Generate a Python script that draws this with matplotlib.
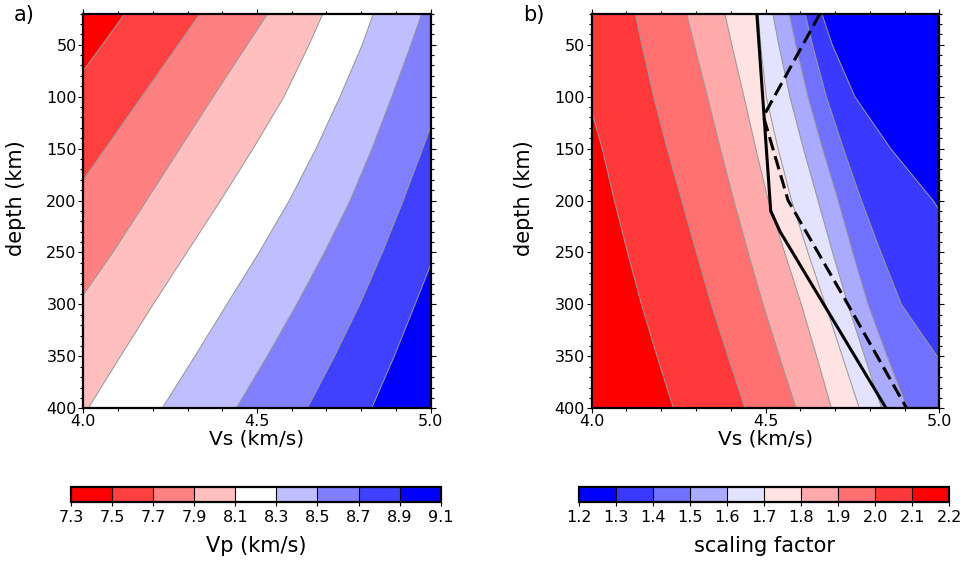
import numpy as np
import matplotlib
matplotlib.use("Agg")
import matplotlib.pyplot as plt
from matplotlib.colors import ListedColormap, BoundaryNorm
from matplotlib.cm import ScalarMappable
from matplotlib.ticker import MultipleLocator

plt.rcParams["font.family"] = ["DejaVu Sans"]

# depth rows (km) at which the contour positions were read
depth = [20, 50, 100, 150, 200, 250, 300, 350, 400]

# a) Vs (km/s) where each Vp contour sits at those depths (values past 4.0/5.0 run off the frame)
vp_levels = [7.3, 7.5, 7.7, 7.9, 8.1, 8.3, 8.5, 8.7, 8.9, 9.1]
vp_75 = [4.120, 4.055, 3.945, 3.836, 3.727, 3.618, 3.509, 3.400, 3.290]
vp_77 = [4.336, 4.273, 4.168, 4.063, 3.958, 3.853, 3.748, 3.643, 3.538]
vp_79 = [4.531, 4.472, 4.374, 4.278, 4.182, 4.085, 3.981, 3.886, 3.790]
vp_81 = [4.690, 4.650, 4.578, 4.489, 4.395, 4.298, 4.201, 4.107, 4.014]
vp_83 = [4.835, 4.803, 4.739, 4.670, 4.593, 4.506, 4.413, 4.321, 4.227]
vp_85 = [4.974, 4.943, 4.888, 4.831, 4.768, 4.694, 4.614, 4.529, 4.440]
vp_87 = [5.080, 5.060, 5.032, 4.977, 4.921, 4.861, 4.796, 4.723, 4.645]
vp_89 = [5.260, 5.230, 5.190, 5.130, 5.073, 5.014, 4.955, 4.895, 4.830]

# b) Vs (km/s) of each scaling-factor contour
sf_levels = [1.2, 1.3, 1.4, 1.5, 1.6, 1.7, 1.8, 1.9, 2.0, 2.1, 2.2]
sf_21 = [3.930, 3.955, 3.988, 4.030, 4.065, 4.103, 4.143, 4.188, 4.235]
sf_20 = [4.125, 4.144, 4.178, 4.217, 4.259, 4.301, 4.344, 4.392, 4.441]
sf_19 = [4.273, 4.295, 4.333, 4.370, 4.409, 4.450, 4.493, 4.540, 4.588]
sf_18 = [4.383, 4.403, 4.438, 4.472, 4.508, 4.555, 4.603, 4.647, 4.690]
sf_17 = [4.479, 4.486, 4.502, 4.536, 4.575, 4.622, 4.672, 4.721, 4.770]
sf_16 = [4.521, 4.538, 4.570, 4.609, 4.651, 4.693, 4.737, 4.785, 4.834]
sf_15 = [4.568, 4.587, 4.622, 4.664, 4.709, 4.751, 4.795, 4.850, 4.908]
sf_14 = [4.614, 4.635, 4.675, 4.724, 4.776, 4.832, 4.891, 4.994, 5.100]
sf_13 = [4.662, 4.692, 4.757, 4.860, 4.982, 5.080, 5.180, 5.280, 5.380]

# black profiles in b)
solid_vs = [4.475, 4.515, 4.542, 4.847]
solid_depth = [20, 210, 230, 400]
dashed_vs = [4.657, 4.494, 4.565, 4.737, 4.906]
dashed_depth = [20, 119, 200, 300, 400]


def polar(n):
    # GMT "polar": blue -> white -> red
    out = []
    for f in np.linspace(0, 1, n):
        if f <= 0.5:
            out.append((2 * f, 2 * f, 1.0))
        else:
            out.append((1.0, 2 * (1 - f), 2 * (1 - f)))
    return out


def draw_field(ax, lines, colors):
    # lines ordered left to right, one colour per band left to right
    edges = [[3.0] * len(depth)] + lines + [[6.0] * len(depth)]
    for left, right, c in zip(edges[:-1], edges[1:], colors):
        ax.fill_betweenx(depth, left, right, color=c, lw=0, edgecolor="none")
    for ln in lines:
        ax.plot(ln, depth, color="0.58", lw=0.7)


def frame(ax):
    ax.set_xlim(4.0, 5.0)
    ax.set_ylim(400, 20)
    ax.set_xticks([4.0, 4.5, 5.0], ["4.0", "4.5", "5.0"])
    ax.set_yticks(range(50, 401, 50))
    ax.xaxis.set_minor_locator(MultipleLocator(0.1))
    ax.yaxis.set_minor_locator(MultipleLocator(10))
    ax.tick_params(which="both", direction="out", top=True, right=True,
                   width=0.8, labelsize=11.5, pad=1.0)
    ax.tick_params(axis="x", which="both", pad=0.3)
    ax.tick_params(which="major", length=3.8)
    ax.tick_params(which="minor", length=2.0)
    for s in ax.spines.values():
        s.set_linewidth(1.6)
    ax.set_xlabel("Vs (km/s)", fontsize=14.5, labelpad=0.5)
    ax.set_ylabel("depth (km)", fontsize=15)
    ax.yaxis.set_label_coords(-0.165, 0.533)


def colorbar(fig, rect, levels, colors, label):
    cax = fig.add_axes(rect)
    sm = ScalarMappable(norm=BoundaryNorm(levels, len(colors)), cmap=ListedColormap(colors))
    cb = fig.colorbar(sm, cax=cax, orientation="horizontal", ticks=levels, drawedges=True)
    cb.set_ticklabels([f"{v:.1f}" for v in levels])
    cb.outline.set_linewidth(1.6)
    cb.dividers.set_color("black")
    cb.dividers.set_linewidth(0.8)
    cb.ax.tick_params(direction="out", length=3, width=0.8, labelsize=11.5, pad=3)
    cb.set_label(label, fontsize=15, labelpad=8)


fig = plt.figure(figsize=(9.62, 5.63), dpi=100)
ax_a = fig.add_axes([0.0866, 0.2748, 0.3611, 0.7012])
ax_b = fig.add_axes([0.6151, 0.2748, 0.3613, 0.7012])

red_to_blue_a = polar(len(vp_levels) - 1)[::-1]
red_to_blue_b = polar(len(sf_levels) - 1)[::-1]

draw_field(ax_a, [vp_75, vp_77, vp_79, vp_81, vp_83, vp_85, vp_87, vp_89], red_to_blue_a)
draw_field(ax_b, [sf_21, sf_20, sf_19, sf_18, sf_17, sf_16, sf_15, sf_14, sf_13], red_to_blue_b)

ax_b.plot(solid_vs, solid_depth, color="black", lw=2.2, solid_joinstyle="miter")
ax_b.plot(dashed_vs, dashed_depth, color="black", lw=2.2, linestyle=(0, (4.5, 2.0)))

frame(ax_a)
frame(ax_b)

fig.text(14 / 962, 1 - 5 / 563, "a)", fontsize=15, ha="left", va="top")
fig.text(523 / 962, 1 - 5 / 563, "b)", fontsize=15, ha="left", va="top")

colorbar(fig, [0.0738, 0.1089, 0.3843, 0.0266], vp_levels, red_to_blue_a, "Vp (km/s)")
colorbar(fig, [0.6019, 0.1089, 0.3849, 0.0266], sf_levels, polar(len(sf_levels) - 1), "scaling factor")

fig.savefig("out.png", dpi=100)
